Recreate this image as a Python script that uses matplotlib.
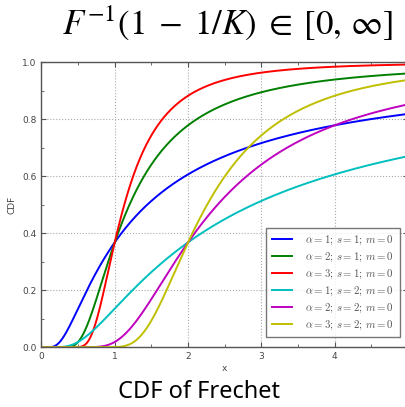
import numpy as np
import matplotlib
matplotlib.use("Agg")
import matplotlib.pyplot as plt
from matplotlib.ticker import MultipleLocator

# Frechet parameters
alphas = [1, 2, 3, 1, 2, 3]
scales = [1, 1, 1, 2, 2, 2]
locs = [0, 0, 0, 0, 0, 0]
colors = ['b', 'g', 'r', 'c', 'm', 'y']

x_ticks = [0, 1, 2, 3, 4]
y_ticks = [0.0, 0.2, 0.4, 0.6, 0.8, 1.0]


def frechet_cdf(x, a, s, m):
    z = (x - m) / s
    out = np.zeros_like(x)
    pos = z > 0
    out[pos] = np.exp(-z[pos] ** (-a))
    return out


fig = plt.figure(figsize=(4.06, 4.07), dpi=100)
ax = fig.add_axes([0.102, 0.147, 0.903, 0.700])

xs = np.linspace(0.001, 5, 600)
for a, s, m, c in zip(alphas, scales, locs, colors):
    label = r'$\alpha=%d;\, s=%d;\, m=%d$' % (a, s, m)
    ax.plot(xs, frechet_cdf(xs, a, s, m), color=c, lw=1.4, label=label)

ax.set_xlim(0, 5)
ax.set_ylim(0, 1)
ax.set_xticks(x_ticks)
ax.set_yticks(y_ticks)
ax.xaxis.set_minor_locator(MultipleLocator(0.5))
ax.yaxis.set_minor_locator(MultipleLocator(0.1))
ax.tick_params(which='both', direction='in', top=True, right=True,
               labelsize=6.5, labelcolor='#444444', color='#555555')
ax.tick_params(which='major', length=3.5)
ax.tick_params(which='minor', length=2)
ax.grid(True, ls=':', color='#aaaaaa', lw=0.8)
for sp in ax.spines.values():
    sp.set_color('#555555')
    sp.set_linewidth(1.0)

ax.set_xlabel('x', fontsize=6.5, color='#444444', labelpad=2)
ax.set_ylabel('CDF', fontsize=6.5, color='#444444', labelpad=4)

leg = ax.legend(loc='lower right', fontsize=7.8, frameon=True, fancybox=False,
                handlelength=1.8, handletextpad=1.2, labelspacing=0.33,
                borderpad=0.55, bbox_to_anchor=(0.992, 0.015))
leg.get_frame().set_edgecolor('#555555')
leg.get_frame().set_linewidth(1.0)
for t in leg.get_texts():
    t.set_color('#555555')
    t.set_math_fontfamily('cm')

fig.text(0.562, 0.944,
         r'$F^{-1}(1\;-\;1/K)\;\in\;[0,\,\infty]$',
         fontsize=25, ha='center', va='center', math_fontfamily='stix')
fig.text(0.49, 0.038, 'CDF of Frechet', fontsize=17, family='Noto Sans',
         ha='center', va='center')

fig.savefig('out.png', dpi=100)
